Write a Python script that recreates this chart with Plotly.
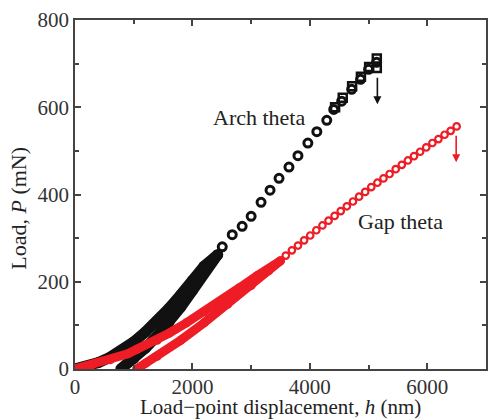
import plotly.graph_objects as go

# ---- data ----
# Arch theta: dense loading / unloading branches
arch_load_h = [0, 200, 400, 600, 800, 1000, 1200, 1400, 1600, 1800, 2000, 2200, 2430]
arch_load_p = [0, 6, 15, 27, 43, 62, 85, 110, 139, 170, 203, 236, 262]
arch_unload_h = [780, 1000, 1200, 1400, 1600, 1800, 2000, 2200, 2430]
arch_unload_p = [0, 24, 48, 76, 107, 142, 180, 222, 262]
# Arch theta: sparse reloading markers
arch_h = [2508, 2678, 2847, 3000, 3169, 3322, 3475, 3644, 3797, 3966, 4119, 4288,
          4407, 4542, 4712, 4864, 5000, 5136]
arch_p = [280, 308, 327, 350, 382, 410, 437, 463, 489, 518, 544, 570,
          595, 614, 641, 664, 687, 703]
# Arch theta: step clusters near the top (square symbols)
arch_sq_h = [4430, 4560, 4720, 4870, 5010, 5140, 5140]
arch_sq_p = [600, 622, 648, 670, 692, 712, 690]

# Gap theta: dense loading / unloading branches
gap_load_h = [0, 300, 600, 900, 1050, 1400, 1600, 1900, 2200, 2500, 2800, 3100, 3500]
gap_load_p = [0, 10, 21, 35, 45, 66, 82, 106, 131, 158, 186, 214, 248]
gap_unload_h = [1050, 1200, 1400, 1800, 2200, 2600, 3000, 3300, 3500]
gap_unload_p = [0, 13, 29, 66, 106, 148, 191, 225, 248]
# Gap theta: sparse markers
gap_h = [3590, 3694, 3798, 3902, 4006, 4110, 4214, 4318, 4422, 4526, 4630, 4734,
         4838, 4942, 5046, 5150, 5254, 5358, 5462, 5566, 5670, 5774, 5878, 5982,
         6086, 6190, 6294, 6398, 6500]
gap_p = [260, 272, 283, 295, 306, 318, 329, 340, 351, 362, 373, 384,
         395, 406, 417, 427, 437, 447, 458, 468, 478, 488, 498, 508,
         518, 527, 537, 546, 556]

x_ticks = [0, 2000, 4000, 6000]
y_ticks = [0, 200, 400, 600, 800]

BLACK = "#111111"
RED = "#ee1c25"
FONT = "Liberation Serif"
TXT = "#222222"

fig = go.Figure()

# black dense branches
for hx, py in [(arch_load_h, arch_load_p), (arch_unload_h, arch_unload_p)]:
    fig.add_trace(go.Scatter(x=hx, y=py, mode="lines+markers",
                             line=dict(color=BLACK, width=11),
                             marker=dict(color=BLACK, size=11),
                             hoverinfo="skip", showlegend=False))
fig.add_trace(go.Scatter(x=arch_h, y=arch_p, mode="markers",
                         marker=dict(symbol="circle-open", color=BLACK, size=8,
                                     line=dict(width=3, color=BLACK)),
                         showlegend=False))
fig.add_trace(go.Scatter(x=arch_sq_h, y=arch_sq_p, mode="markers",
                         marker=dict(symbol="square-open", color=BLACK, size=8,
                                     line=dict(width=2.5, color="#333333")),
                         showlegend=False))

# red dense branches
for hx, py in [(gap_load_h, gap_load_p), (gap_unload_h, gap_unload_p)]:
    fig.add_trace(go.Scatter(x=hx, y=py, mode="lines+markers",
                             line=dict(color=RED, width=9),
                             marker=dict(color=RED, size=9),
                             hoverinfo="skip", showlegend=False))
fig.add_trace(go.Scatter(x=gap_h, y=gap_p, mode="markers",
                         marker=dict(symbol="circle-open", color=RED, size=6.5,
                                     line=dict(width=2.2, color=RED)),
                         showlegend=False))

axis_common = dict(showline=True, linecolor="#444444", linewidth=1.5, mirror="ticks",
                   ticks="inside", ticklen=6, tickwidth=1.5, tickcolor="#444444",
                   showgrid=False, zeroline=False,
                   tickfont=dict(family=FONT, size=21, color="#333333"))

fig.update_xaxes(range=[0, 7000], tickvals=x_ticks, ticktext=[str(v) for v in x_ticks],
                 ticklabelstandoff=-2,
                 minor=dict(ticks="inside", dtick=1000, ticklen=4, tickwidth=1.5,
                            tickcolor="#444444"),
                 **axis_common)
fig.update_yaxes(range=[0, 800], tickvals=y_ticks, ticktext=[str(v) for v in y_ticks],
                 minor=dict(ticks="inside", dtick=100, ticklen=4, tickwidth=1.5,
                            tickcolor="#444444"),
                 **axis_common)

annots = [
    dict(text="Arch theta", x=3136, y=577, xref="x", yref="y", showarrow=False,
         font=dict(family=FONT, size=22, color=TXT)),
    dict(text="Gap theta", x=5540, y=338, xref="x", yref="y", showarrow=False,
         font=dict(family=FONT, size=22, color=TXT)),
    dict(text="Load\u2212point displacement, <i>h</i> (nm)", x=0.5, y=-0.108,
         xref="paper", yref="paper", showarrow=False, yanchor="middle",
         font=dict(family=FONT, size=21, color=TXT)),
    dict(text="Load, <i>P</i> (mN)", x=-0.138, y=0.46, xref="paper", yref="paper",
         showarrow=False, textangle=-90, xanchor="center", yanchor="middle",
         font=dict(family=FONT, size=22, color=TXT)),
    dict(x=5150, y=607, ax=5150, ay=671, xref="x", yref="y", axref="x", ayref="y",
         text="", showarrow=True, arrowhead=2, arrowsize=1, arrowwidth=1.6,
         arrowcolor=BLACK),
    dict(x=6492, y=474, ax=6492, ay=538, xref="x", yref="y", axref="x", ayref="y",
         text="", showarrow=True, arrowhead=2, arrowsize=1, arrowwidth=1.6,
         arrowcolor=RED),
]

fig.update_layout(width=490, height=419,
                  margin=dict(l=75, r=2, t=20, b=50),
                  paper_bgcolor="white", plot_bgcolor="white",
                  annotations=annots, showlegend=False)

fig.write_html("out.html")
